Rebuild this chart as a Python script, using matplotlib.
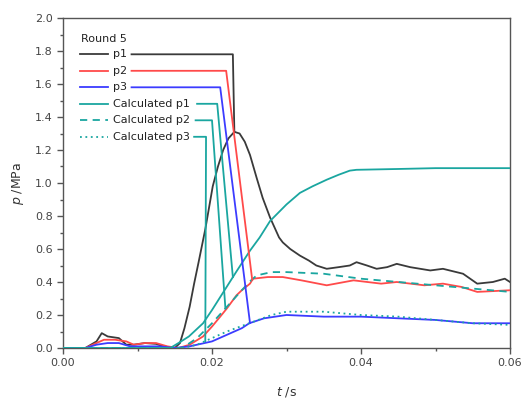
import numpy as np
import matplotlib
matplotlib.use("Agg")
import matplotlib.pyplot as plt
from matplotlib.ticker import MultipleLocator, FuncFormatter

# ---- data ----
t_p1 = [0.000, 0.003, 0.0045, 0.0052, 0.006, 0.0075, 0.0085, 0.0095, 0.011, 0.0125, 0.0135, 0.015,
        0.0157, 0.0163, 0.0170, 0.0176, 0.0182, 0.0191, 0.0201, 0.0208, 0.0215, 0.0222, 0.0230,
        0.0237, 0.0244, 0.0251, 0.0260, 0.0268, 0.0278, 0.0285, 0.0290, 0.0295, 0.0305, 0.0318,
        0.0330, 0.0340, 0.0354, 0.0370, 0.0385, 0.0394, 0.0408, 0.0421, 0.0435, 0.0448, 0.0466,
        0.0493, 0.051, 0.0537, 0.0556, 0.0577, 0.0593, 0.060]
p1 = [0.0, 0.0, 0.04, 0.09, 0.07, 0.06, 0.02, 0.02, 0.03, 0.025, 0.01, 0.0,
      0.03, 0.12, 0.25, 0.39, 0.52, 0.72, 0.98, 1.10, 1.20, 1.27, 1.31,
      1.30, 1.25, 1.17, 1.03, 0.91, 0.79, 0.72, 0.67, 0.64, 0.60, 0.56,
      0.53, 0.50, 0.48, 0.49, 0.50, 0.52, 0.50, 0.48, 0.49, 0.51, 0.49,
      0.47, 0.48, 0.45, 0.39, 0.40, 0.42, 0.40]

t_p2 = [0.000, 0.003, 0.0045, 0.0055, 0.007, 0.0085, 0.0095, 0.011, 0.0125, 0.014, 0.0155,
        0.017, 0.0188, 0.020, 0.0211, 0.022, 0.0233, 0.024, 0.0251, 0.0255, 0.0275, 0.0295,
        0.032, 0.0354, 0.039, 0.0427, 0.0448, 0.0485, 0.051, 0.0535, 0.0556, 0.060]
p2 = [0.0, 0.0, 0.03, 0.05, 0.05, 0.04, 0.02, 0.03, 0.03, 0.01, 0.0,
      0.02, 0.07, 0.13, 0.19, 0.24, 0.32, 0.35, 0.39, 0.42, 0.43, 0.43,
      0.41, 0.38, 0.41, 0.39, 0.40, 0.38, 0.39, 0.37, 0.34, 0.35]

t_p3 = [0.000, 0.003, 0.0045, 0.006, 0.0075, 0.009, 0.011, 0.013, 0.015, 0.017, 0.020, 0.022,
        0.024, 0.025, 0.027, 0.030, 0.035, 0.040, 0.045, 0.050, 0.055, 0.060]
p3 = [0.0, 0.0, 0.02, 0.03, 0.03, 0.01, 0.01, 0.01, 0.0, 0.01, 0.04, 0.08,
      0.12, 0.15, 0.18, 0.20, 0.19, 0.19, 0.18, 0.17, 0.15, 0.15]

t_c1 = [0.000, 0.0144, 0.0155, 0.0169, 0.0188, 0.020, 0.0233, 0.0251, 0.0264, 0.0278, 0.030,
        0.0318, 0.0335, 0.0354, 0.037, 0.0385, 0.0394, 0.045, 0.050, 0.060]
c1 = [0.0, 0.0, 0.03, 0.07, 0.15, 0.23, 0.465, 0.59, 0.67, 0.77, 0.87,
      0.94, 0.98, 1.02, 1.05, 1.075, 1.08, 1.085, 1.09, 1.09]

t_c2 = [0.000, 0.016, 0.018, 0.020, 0.022, 0.024, 0.025, 0.026, 0.028, 0.030, 0.035, 0.040,
        0.045, 0.050, 0.055, 0.060]
c2 = [0.0, 0.0, 0.06, 0.15, 0.25, 0.35, 0.40, 0.44, 0.46, 0.46, 0.45, 0.42,
      0.40, 0.38, 0.36, 0.34]

t_c3 = [0.000, 0.016, 0.018, 0.020, 0.022, 0.025, 0.028, 0.030, 0.035, 0.040, 0.045, 0.050,
        0.055, 0.060]
c3 = [0.0, 0.0, 0.02, 0.06, 0.10, 0.15, 0.20, 0.22, 0.22, 0.20, 0.19, 0.17,
      0.15, 0.14]

labels = ["p1", "p2", "p3", "Calculated p1", "Calculated p2", "Calculated p3"]
# time at which each legend connector meets its curve
join_t = [0.0230, 0.0254, 0.0251, 0.0228, 0.0218, 0.0191]
corner_t = [0.0228, 0.0219, 0.0211, 0.0207, 0.0200, 0.0192]

BLACK = "#3a3a3a"
RED = "#ff4a4a"
BLUE = "#3c3cff"
TEAL = "#1aa6a0"

series = [
    (t_p1, p1, BLACK, "-"),
    (t_p2, p2, RED, "-"),
    (t_p3, p3, BLUE, "-"),
    (t_c1, c1, TEAL, "-"),
    (t_c2, c2, TEAL, (0, (4, 3))),
    (t_c3, c3, TEAL, (0, (1, 2))),
]

fig = plt.figure(figsize=(5.26, 4.0), dpi=100)
ax = fig.add_axes([63 / 526, 52 / 400, 447 / 526, 330 / 400])

for (tt, pp, col, ls) in series:
    ax.plot(tt, pp, color=col, lw=1.3, ls=ls, zorder=3)

ax.set_xlim(0, 0.06)
ax.set_ylim(0, 2.0)

# legend drawn by hand, with connector lines to the curves (as in the original)
row_y = [1.78, 1.68, 1.58, 1.48, 1.38, 1.28]
text_end = [0.0092, 0.0092, 0.0092, 0.0180, 0.0178, 0.0176]
ax.text(0.0024, 1.87, "Round 5", fontsize=8, color="#222222", va="center", ha="left")
for i, (tt, pp, col, ls) in enumerate(series):
    y = row_y[i]
    ax.plot([0.0023, 0.0060], [y, y], color=col, lw=1.3, ls=ls, zorder=4)
    ax.text(0.0067, y, labels[i], fontsize=8, color="#222222", va="center", ha="left")
    yend = float(np.interp(join_t[i], tt, pp))
    ax.plot([text_end[i], corner_t[i], join_t[i]], [y, y, yend], color=col, lw=1.3, zorder=3)

ax.xaxis.set_major_locator(MultipleLocator(0.02))
ax.xaxis.set_minor_locator(MultipleLocator(0.01))
ax.yaxis.set_major_locator(MultipleLocator(0.2))
ax.yaxis.set_minor_locator(MultipleLocator(0.1))
ax.xaxis.set_major_formatter(FuncFormatter(lambda v, p: f"{v:.2f}"))
ax.yaxis.set_major_formatter(FuncFormatter(lambda v, p: f"{v:.1f}"))
ax.tick_params(which="both", direction="out", top=False, right=False, colors="#555555",
               labelsize=8, labelcolor="#444444")
ax.tick_params(which="major", length=4, width=1)
ax.tick_params(which="minor", length=2.5, width=1)
for s in ax.spines.values():
    s.set_color("#555555")
    s.set_linewidth(1.0)

ax.set_xlabel(r"$t$ /s", fontsize=9, color="#333333", labelpad=12)
ax.set_ylabel(r"$p$ /MPa", fontsize=9, color="#333333", labelpad=6)

fig.savefig("out.png", dpi=100)
